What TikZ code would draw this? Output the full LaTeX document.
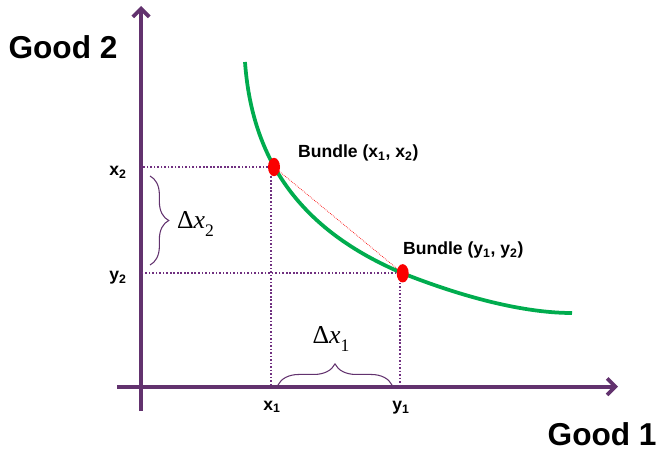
\documentclass[tikz,border=0pt]{standalone}
\usepackage{fontspec}
\setmainfont{Liberation Sans}
\newfontfamily\deltafont{Liberation Serif}
\usetikzlibrary{shapes.geometric,arrows.meta,decorations.pathreplacing}
\definecolor{axcol}{RGB}{98,50,110}
\definecolor{curvecol}{RGB}{0,172,78}
\definecolor{dotcol}{RGB}{250,0,0}
\definecolor{guidecol}{RGB}{112,48,128}
\newcommand{\deltasym}[1]{{\deltafont Δ\textit{x}\raisebox{-6pt}{\fontsize{15}{17}\selectfont #1}}}

\begin{document}
\begin{tikzpicture}[
    x=0.03cm, y=-0.03cm,
    axis/.style={line width=3.2pt, color=axcol, -{Straight Barb[length=7pt,width=14pt]}},
    curve/.style={line width=3.2pt, color=curvecol},
    bundledot/.style={ellipse, fill=dotcol, minimum width=0.36cm, minimum height=0.55cm, inner sep=0pt},
    guide/.style={line width=1.4pt, dash pattern=on 1.4pt off 1.6pt, color=guidecol},
    chord/.style={densely dotted, line width=0.6pt, color=dotcol},
    goodlabel/.style={font=\fontsize{27}{30}\selectfont\bfseries, inner sep=1pt},
    ticklabel/.style={font=\fontsize{15}{18}\selectfont\bfseries},
    deltalabel/.style={font=\fontsize{22}{26}\selectfont},
    brace/.style={decorate, decoration={brace, amplitude=#1}, line width=0.9pt, color=axcol},
]
\useasboundingbox (0,0) rectangle (665,451);

% ============ AXES ============
\coordinate (o) at (141,386.7);
\coordinate (ytop) at (141,6);
\coordinate (ybot) at (141,411);
\coordinate (xleft) at (117,386.7);
\coordinate (xright) at (618,386.7);
\draw[axis] (ybot) -- (ytop);
\draw[axis] (xleft) -- (xright);

\node[goodlabel] (good2) at (63,47) {Good 2};
\node[goodlabel, anchor=east] (good1) at (658,434) {Good 1};

% ============ INDIFFERENCE CURVE ============
\draw[curve] (245,62) .. controls (252,160) and (300,230) .. (402.7,273.3)
             .. controls (473,301) and (530,313) .. (572,313);

% ============ BUNDLES ============
\node[bundledot] (bx) at (274,167) {};
\node[bundledot] (by) at (402.7,273.3) {};

\draw[guide] (bx) -- (bx -| o);
\draw[guide] (by) -- (by -| o);
\draw[guide] (bx.south) ++(-3,0) coordinate (bxs) -- (bxs |- o);
\draw[guide] (by.south) ++(-3,0) coordinate (bys) -- (bys |- o);
\draw[chord] (bx) -- (by);

\node[ticklabel, anchor=west] (bxlab) at (294,153) {Bundle (x\textsubscript{1}, x\textsubscript{2})};
\node[ticklabel, anchor=west] (bylab) at (399,250) {Bundle (y\textsubscript{1}, y\textsubscript{2})};

% ============ TICK LABELS ============
\node[ticklabel] (x2) at (118,172) {x\textsubscript{2}};
\node[ticklabel] (y2) at (118,278) {y\textsubscript{2}};
\node[ticklabel] (x1) at (272,407) {x\textsubscript{1}};
\node[ticklabel] (y1) at (401,408) {y\textsubscript{1}};

% ============ DIFFERENCES ============
\coordinate (b2top) at (150,176);
\coordinate (b2bot) at (150,265);
\draw[brace=16pt] (b2top) -- (b2bot);
\node[deltalabel, anchor=west] (dx2) at (173,224) {\deltasym{2}};

\coordinate (b1left) at (278,385);
\coordinate (b1right) at (392,385);
\draw[brace=18pt] (b1left) -- (b1right);
\node[deltalabel] (dx1) at (331,339) {\deltasym{1}};

\end{tikzpicture}
\end{document}
